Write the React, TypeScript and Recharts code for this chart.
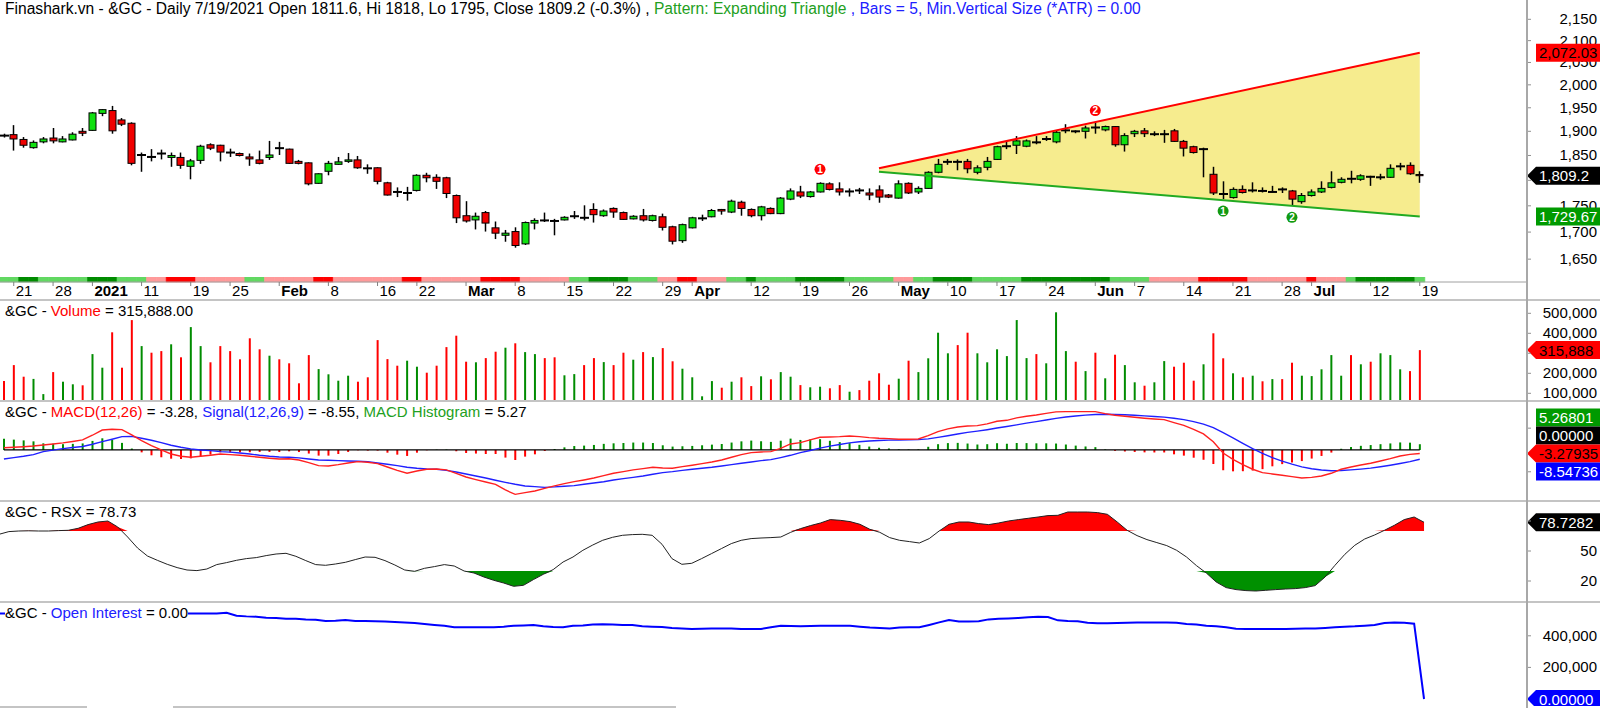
import React from 'react';
import {
  ComposedChart, Bar, Line, Area, XAxis, YAxis, Cell,
  ReferenceLine, ReferenceArea, ReferenceDot,
} from 'recharts';

const W = 1600;
const AXIS_W = 73;
const FONT = '"Liberation Sans", Arial, Helvetica, sans-serif';
const MARGIN = { top: 0, right: 0, left: -1, bottom: 0 };
const X_PAD = { left: 0, right: 4 };
const EMPTY_SLOTS = 10;

const UP = '#10e010';
const DOWN = '#f00000';
const VOL_UP = '#008c00';
const VOL_DOWN = '#ff0000';
const TXT_GREEN = '#22a022';
const TXT_BLUE = '#2020ff';
const TXT_RED = '#ff0000';

// trading days on the chart
const dec20 = [18, 21, 22, 23, 24, 28, 29, 30, 31];
const jan21 = [4, 5, 6, 7, 8, 11, 12, 13, 14, 15, 19, 20, 21, 22, 25, 26, 27, 28, 29];
const feb21 = [1, 2, 3, 4, 5, 8, 9, 10, 11, 12, 16, 17, 18, 19, 22, 23, 24, 25, 26];
const mar21 = [1, 2, 3, 4, 5, 8, 9, 10, 11, 12, 15, 16, 17, 18, 19, 22, 23, 24, 25, 26, 29, 30, 31];
const apr21 = [1, 5, 6, 7, 8, 9, 12, 13, 14, 15, 16, 19, 20, 21, 22, 23, 26, 27, 28, 29, 30];
const may21 = [3, 4, 5, 6, 7, 10, 11, 12, 13, 14, 17, 18, 19, 20, 21, 24, 25, 26, 27, 28];
const jun21 = [1, 2, 3, 4, 7, 8, 9, 10, 11, 14, 15, 16, 17, 18, 21, 22, 23, 24, 25, 28, 29, 30];
const jul21 = [1, 2, 6, 7, 8, 9, 12, 13, 14, 15, 16, 19];

const months: [string, number, number[]][] = [
  ['Dec', 12, dec20], ['2021', 1, jan21], ['Feb', 2, feb21], ['Mar', 3, mar21],
  ['Apr', 4, apr21], ['May', 5, may21], ['Jun', 6, jun21], ['Jul', 7, jul21],
];

// labelled dates on the time axis
const tickKeys = [
  '12/21', '12/28', '1/4', '1/11', '1/19', '1/25', '2/1', '2/8', '2/16', '2/22',
  '3/1', '3/8', '3/15', '3/22', '3/29', '4/1', '4/12', '4/19', '4/26', '5/3',
  '5/10', '5/17', '5/24', '6/1', '6/7', '6/14', '6/21', '6/28', '7/1', '7/12', '7/19',
];

const opens = [
  1891, 1893, 1883, 1866, 1878, 1886, 1878, 1882, 1900, 1902,
  1938, 1944, 1924, 1917, 1851, 1847, 1854, 1846, 1846, 1828,
  1840, 1872, 1871, 1856, 1854, 1847, 1841, 1846, 1865, 1863,
  1838, 1835, 1794, 1818, 1832, 1838, 1841, 1824, 1825, 1795,
  1777, 1775, 1780, 1810, 1806, 1805, 1770, 1731, 1723, 1737,
  1708, 1694, 1701, 1678, 1717, 1722, 1721, 1723, 1730, 1727,
  1743, 1731, 1745, 1737, 1725, 1731, 1722, 1729, 1710, 1684,
  1708, 1726, 1729, 1743, 1738, 1757, 1743, 1731, 1745, 1735,
  1763, 1777, 1768, 1777, 1793, 1783, 1778, 1780, 1775, 1781,
  1771, 1765, 1794, 1777, 1784, 1816, 1837, 1837, 1838, 1816,
  1826, 1842, 1869, 1871, 1869, 1877, 1884, 1878, 1902, 1900,
  1900, 1908, 1903, 1910, 1872, 1895, 1901, 1894, 1894, 1901,
  1879, 1868, 1863, 1812, 1773, 1766, 1782, 1780, 1779, 1777,
  1782, 1779, 1758, 1770, 1777, 1786, 1796, 1803, 1802, 1807,
  1806, 1806, 1828, 1830, 1811.6,
];
const highs = [
  1895, 1913, 1888, 1881, 1888, 1907, 1890, 1898, 1907, 1941,
  1947, 1954, 1928, 1919, 1856, 1863, 1862, 1856, 1856, 1843,
  1872, 1875, 1872, 1864, 1856, 1854, 1860, 1880, 1878, 1864,
  1841, 1836, 1814, 1839, 1847, 1855, 1849, 1832, 1826, 1797,
  1786, 1787, 1812, 1815, 1812, 1807, 1772, 1759, 1737, 1740,
  1720, 1704, 1709, 1720, 1726, 1737, 1725, 1730, 1740, 1751,
  1755, 1743, 1747, 1739, 1732, 1744, 1733, 1735, 1712, 1716,
  1729, 1733, 1744, 1744, 1762, 1760, 1745, 1750, 1747, 1767,
  1784, 1789, 1779, 1796, 1796, 1796, 1784, 1785, 1784, 1790,
  1773, 1800, 1796, 1788, 1818, 1843, 1843, 1842, 1843, 1830,
  1847, 1870, 1878, 1890, 1883, 1890, 1890, 1902, 1915, 1902,
  1912, 1919, 1912, 1911, 1896, 1903, 1907, 1900, 1903, 1905,
  1882, 1870, 1866, 1827, 1798, 1786, 1790, 1796, 1786, 1789,
  1786, 1781, 1775, 1782, 1798, 1818, 1806, 1819, 1812, 1809,
  1813, 1832, 1835, 1836, 1818,
];
const lows = [
  1887, 1860, 1866, 1864, 1875, 1875, 1877, 1881, 1890, 1901,
  1932, 1895, 1911, 1830, 1817, 1838, 1842, 1827, 1823, 1802,
  1833, 1861, 1838, 1847, 1848, 1829, 1832, 1841, 1851, 1833,
  1832, 1790, 1793, 1810, 1831, 1835, 1823, 1813, 1792, 1770,
  1767, 1760, 1778, 1796, 1783, 1765, 1717, 1718, 1705, 1701,
  1687, 1682, 1671, 1676, 1705, 1719, 1694, 1722, 1725, 1722,
  1718, 1729, 1727, 1723, 1724, 1720, 1720, 1703, 1677, 1680,
  1707, 1721, 1728, 1733, 1736, 1731, 1728, 1722, 1734, 1734,
  1761, 1765, 1766, 1776, 1780, 1770, 1768, 1773, 1761, 1756,
  1765, 1764, 1773, 1773, 1783, 1814, 1831, 1820, 1814, 1812,
  1820, 1841, 1863, 1853, 1867, 1873, 1880, 1875, 1896, 1896,
  1885, 1895, 1900, 1868, 1858, 1888, 1888, 1890, 1876, 1878,
  1848, 1854, 1806, 1771, 1763, 1764, 1774, 1776, 1776, 1776,
  1775, 1750, 1754, 1768, 1775, 1784, 1794, 1794, 1799, 1789,
  1801, 1805, 1820, 1811, 1795,
];
const closes = [
  1890, 1884, 1871, 1877, 1884, 1880, 1884, 1894, 1896, 1939,
  1946, 1901, 1915, 1834, 1852, 1846, 1853, 1850, 1830, 1839,
  1869, 1865, 1857, 1855, 1850, 1843, 1834, 1851, 1864, 1834,
  1834, 1793, 1813, 1834, 1837, 1841, 1825, 1823, 1798, 1771,
  1776, 1776, 1810, 1805, 1798, 1774, 1727, 1721, 1730, 1717,
  1698, 1698, 1675, 1718, 1722, 1721, 1720, 1728, 1731, 1725,
  1733, 1740, 1738, 1724, 1730, 1723, 1731, 1709, 1683, 1714,
  1727, 1727, 1741, 1740, 1759, 1745, 1731, 1748, 1735, 1765,
  1779, 1769, 1777, 1794, 1782, 1777, 1779, 1779, 1771, 1767,
  1767, 1793, 1775, 1784, 1816, 1832, 1838, 1836, 1823, 1825,
  1838, 1868, 1870, 1880, 1880, 1876, 1885, 1898, 1903, 1899,
  1907, 1907, 1910, 1872, 1891, 1900, 1895, 1895, 1895, 1879,
  1865, 1856, 1864, 1775, 1772, 1782, 1776, 1781, 1778, 1778,
  1781, 1763, 1770, 1777, 1784, 1795, 1802, 1802, 1809, 1806,
  1807, 1824, 1829, 1813, 1809.2,
];

// volume, thousands of contracts
const volume = [
  161, 241, 183, 172, 96, 206, 158, 145, 140, 296,
  228, 405, 228, 466, 336, 303, 311, 345, 280, 431,
  336, 255, 336, 311, 270, 375, 320, 288, 270, 250,
  150, 291, 221, 195, 163, 188, 158, 180, 366, 271,
  238, 263, 233, 203, 238, 331, 388, 258, 255, 276,
  308, 328, 350, 306, 296, 276, 280, 190, 196, 241,
  276, 256, 241, 303, 268, 306, 281, 326, 260, 223,
  180, 85, 161, 128, 158, 180, 136, 185, 170, 206,
  183, 141, 130, 133, 125, 141, 108, 116, 163, 200,
  143, 173, 263, 206, 275, 403, 300, 341, 403, 300,
  255, 320, 286, 466, 276, 296, 250, 505, 311, 258,
  211, 303, 175, 293, 241, 155, 138, 155, 261, 233,
  253, 163, 245, 400, 275, 200, 180, 188, 160, 171,
  171, 253, 188, 186, 220, 291, 188, 291, 245, 258,
  300, 291, 220, 211, 315.888,
];

const macd = [
  2, 2.5, 3, 3.6, 4.6, 5.5, 6.5, 7.8, 9.2, 13.5, 18.3, 19, 18.7, 13.8, 8.5, 4, 0, -3.7, -5.8, -6.7,
  -5.8, -4.9, -3.7, -4.3, -4.9, -5.8, -6.7, -7.6, -8.3, -8, -9.2, -11.6, -14.4, -14.7, -13.5, -11.9, -10.7, -11.3, -12.5, -15.6,
  -18.7, -21.4, -19.3, -17.7, -17.4, -18.3, -21.4, -24.8, -27.2, -29.4, -31.5, -36.7, -40.7, -39.1, -37.6, -35.2, -33, -30.9, -29.1, -27.5,
  -25.7, -23.5, -21.4, -19.9, -18.3, -17.1, -15.9, -16.5, -16.8, -15.3, -14, -12.5, -11, -9.2, -6.7, -4.3, -2.4, -1.8, -1.5, 1.5,
  5.5, 6.7, 9.2, 11.6, 11.9, 12.2, 12.8, 12.2, 11.3, 10.7, 10.4, 9.8, 9.8, 10.1, 13.1, 16.8, 19.3, 21.1, 22, 22.3,
  23.9, 26.3, 27.2, 29.4, 30.9, 32.1, 33.6, 34.9, 35.2, 35.2, 35.2, 35.2, 33.3, 31.8, 30.9, 30, 29.1, 28.4, 27.8, 25.1,
  22.6, 18.9, 14.7, 7.6, -2.8, -8.6, -13.5, -17.7, -20.8, -22, -23.2, -24.5, -25.7, -25.1, -23.9, -21.4, -17.7, -15.6, -13.8, -12.2,
  -10.1, -8, -5.5, -4, -3.28,
];
const signal = [
  -8.3, -7, -5.8, -4.3, -1.5, -0.2, 1.2, 2.2, 3.2, 5.2, 7.6, 9.8, 12.2, 12.5, 10.7, 8.9, 6.7, 4.3, 2.5, 1,
  0, -0.6, -1.5, -2, -2.8, -3.7, -4.9, -5.8, -6.4, -6.7, -7.3, -8.3, -9.2, -9.5, -9.8, -10.1, -10.4, -10.7, -11.9, -13.1,
  -14.4, -15.9, -16.8, -17.4, -17.7, -18.7, -20.2, -22, -23.9, -25.7, -27.8, -29.7, -31.5, -33, -33.6, -34.3, -33.9, -33.3, -32.7, -31.5,
  -30.3, -29.1, -27.5, -26.3, -25.1, -23.9, -22.3, -20.8, -19.9, -18.7, -17.7, -16.8, -15.9, -14.7, -13.5, -12.2, -11, -9.8, -8.9, -7,
  -4.9, -2.5, -0.5, 1.7, 3.5, 5, 6.5, 7.5, 8.2, 8.7, 9, 9.2, 9.3, 9.5, 10.2, 11.5, 13, 14.6, 16.1, 17.3,
  18.6, 20.1, 21.5, 23, 24.6, 26, 27.5, 29, 30.2, 31.2, 32, 32.6, 32.8, 32.6, 32.3, 31.8, 31.3, 30.7, 30.1, 29.1,
  27.8, 26, 23.7, 20.5, 15.8, 11, 6, 1.2, -3.2, -7, -10.2, -13, -15.5, -17.2, -18.4, -19, -18.8, -18.3, -17.6, -16.7,
  -15.4, -14, -12.4, -10.7, -8.55,
];

const rsx = [
  66.7, 69.4, 70, 70.2, 70, 70, 70.4, 70.7, 72.7, 76.4, 79, 80, 74, 64, 53, 45, 40.7, 36.7, 33.4, 31,
  30.4, 32, 36.4, 38.4, 40.7, 42.4, 43.4, 45.4, 47, 47.7, 44.7, 40.4, 36.4, 35.7, 37, 38.7, 41.4, 44, 43.7, 40.4,
  36, 31, 29.7, 32.7, 34.4, 36.4, 35, 30, 28, 24, 20.7, 18, 14.7, 15.7, 21.4, 26.7, 31.4, 39, 44, 50.7,
  56, 60.7, 63.7, 65.7, 66.4, 66.7, 65.7, 56.7, 42.4, 36.7, 37.7, 42.4, 47.4, 52.4, 57.4, 60.7, 62.4, 63, 63.4, 64,
  68.7, 72.4, 75.4, 78, 81.4, 80.7, 79.4, 76.7, 71.7, 68.7, 63.4, 60.7, 59.4, 58, 62.4, 70, 76.7, 79, 79, 77.4,
  76.4, 78, 80, 81.4, 82.7, 84, 85.4, 85.7, 89, 89, 89, 88.4, 86.7, 79, 70.7, 65.4, 61.4, 58.4, 55.4, 50.7,
  44, 35.4, 28, 19, 13.4, 11.4, 10.4, 10, 10.7, 11.4, 12, 12.4, 13.4, 15.4, 24, 35.7, 46.7, 55.7, 62, 66,
  70.7, 75.7, 81.4, 84, 78.73,
];

// open interest, thousands
const openInterest = [
  542, 542, 542, 542, 542, 542, 542, 542, 542, 542,
  542, 542, 542, 542, 542, 542, 542, 542, 542, 542,
  542, 542, 542, 546, 527, 523, 521, 515, 513, 508,
  508, 504, 502, 494, 496, 500, 494, 494, 492, 490,
  487, 485, 481, 475, 469, 464, 454, 454, 454, 454,
  454, 458, 464, 466, 469, 460, 456, 454, 464, 466,
  471, 473, 471, 469, 469, 460, 458, 456, 450, 447,
  443, 445, 447, 447, 447, 443, 443, 443, 454, 464,
  462, 460, 462, 464, 464, 464, 464, 458, 452, 450,
  447, 452, 454, 454, 469, 485, 500, 490, 490, 492,
  504, 508, 510, 513, 517, 521, 519, 498, 494, 492,
  483, 479, 479, 481, 483, 485, 485, 485, 485, 483,
  475, 471, 464, 460, 454, 445, 443, 443, 443, 443,
  443, 445, 447, 447, 450, 454, 458, 460, 464, 469,
  481, 485, 483, 477, 0,
];

// trend colour strip under the candles: [state, bars]
const stripRuns: [string, number][] = [
  ['g', 2], ['G', 2], ['g', 5], ['G', 3], ['g', 3], ['r', 2], ['R', 3], ['r', 5], ['g', 2], ['r', 5],
  ['R', 2], ['r', 7], ['R', 2], ['r', 6], ['R', 4], ['r', 5], ['g', 2], ['G', 4], ['g', 3], ['r', 2],
  ['R', 2], ['r', 3], ['g', 2], ['G', 1], ['g', 4], ['G', 5], ['g', 5], ['r', 2], ['g', 2], ['G', 4],
  ['g', 5], ['G', 9], ['g', 4], ['r', 5], ['R', 5], ['r', 6], ['R', 1], ['r', 3], ['g', 1], ['G', 6], ['g', 1],
];
const stripPalette: Record<string, string> = { g: '#62d862', G: '#008c00', r: '#ff9a9a', R: '#ff0000' };

// expanding triangle: start and end of both trend lines
const triBars = [89, 144];
const triUpper = [1824, 2072.03];
const triLower = [1817, 1729.67];

// numbered pivots
const pivots = [
  { bar: 83, price: 1822, n: '1', color: '#ff0000' },
  { bar: 111, price: 1944, n: '2', color: '#ff0000' },
  { bar: 124, price: 1740, n: '1', color: '#119a11' },
  { bar: 131, price: 1728, n: '2', color: '#119a11' },
];

// axis ticks; the labels hidden under value badges are left out
const priceTicks = [1650, 1700, 1750, 1800, 1850, 1900, 1950, 2000, 2050, 2100, 2150];
const priceTickLabels = [1650, 1700, 1750, 1850, 1900, 1950, 2000, 2050, 2100, 2150];
const volTicks = [100000, 200000, 300000, 400000, 500000];
const volTickLabels = [100000, 200000, 400000, 500000];
const macdTicks = [-20, 20];
const rsxTicks = [20, 50, 80];
const rsxTickLabels = [20, 50];
const oiTicks = [200000, 400000];

// ---------- table for the charts ----------
const keys: string[] = [];
const tickLabel: Record<string, { text: string; bold: boolean }> = {};
months.forEach(([name, m, days], mi) => {
  days.forEach((d, di) => {
    const k = `${m}/${d}`;
    keys.push(k);
    if (tickKeys.includes(k)) {
      const monthStart = di === 0 && mi > 0;
      tickLabel[k] = { text: monthStart ? name : String(d), bold: monthStart };
    }
  });
});

const stripColors: string[] = [];
stripRuns.forEach(([s, n]) => { for (let j = 0; j < n; j++) stripColors.push(stripPalette[s]); });

const rows: any[] = keys.map((d, i) => ({
  d,
  o: opens[i], h: highs[i], l: lows[i], c: closes[i],
  hl: [lows[i], highs[i]],
  vol: volume[i] * 1000,
  macd: macd[i], sig: signal[i],
  hist: Math.round((macd[i] - signal[i]) * 100) / 100,
  rsx: rsx[i],
  rsxHi: [70, Math.max(70, rsx[i])],
  rsxLo: [Math.min(30, rsx[i]), 30],
  oi: openInterest[i] * 1000,
  strip: 1,
}));
triBars.forEach((b, k) => {
  rows[b].up = triUpper[k];
  rows[b].lo = triLower[k];
  rows[b].tri = [triLower[k], triUpper[k]];
});
for (let e = 1; e <= EMPTY_SLOTS; e++) rows.push({ d: `e${e}` });

const firstKey = keys[0];
const lastKey = keys[keys.length - 1];
const fmtInt = (v: number) => v.toLocaleString('en-US');

// ---------- shapes ----------
function Candle(props: any) {
  const { x, y, width, height, payload } = props;
  if (!payload || payload.o == null) return <g />;
  const top = Math.min(y, y + height);
  const span = Math.abs(height);
  const lh = Math.log(payload.h);
  const ll = Math.log(payload.l);
  const k = lh === ll ? 0 : span / (lh - ll);
  const yo = top + (lh - Math.log(payload.o)) * k;
  const yc = top + (lh - Math.log(payload.c)) * k;
  const cx = Math.round(x + width / 2) + 0.5;
  const bTop = Math.min(yo, yc);
  const bH = Math.abs(yc - yo);
  const up = payload.c >= payload.o;
  return (
    <g>
      <line x1={cx} x2={cx} y1={top} y2={top + span} stroke="#000" strokeWidth={1.5} />
      {bH < 1.2 ? (
        <line x1={cx - 4.5} x2={cx + 4.5} y1={yo} y2={yo} stroke="#000" strokeWidth={2} />
      ) : (
        <rect x={cx - 3.5} y={bTop} width={7} height={bH} fill={up ? UP : DOWN} stroke="#000" strokeWidth={1} />
      )}
    </g>
  );
}

function DateTick(props: any) {
  const { x, y, payload } = props;
  const lab = tickLabel[payload.value];
  if (!lab) return <g />;
  return (
    <g>
      <line x1={x} x2={x} y1={y} y2={y + 4} stroke="#808080" />
      <text x={x + 2} y={y + 14} fontSize={15} fontFamily={FONT} fontWeight={lab.bold ? 'bold' : 'normal'} fill="#000">
        {lab.text}
      </text>
    </g>
  );
}

const noTick = () => <g />;

// axis value text, drawn as a reference label so the badges can cover it
function AxisText(props: any) {
  const { viewBox, text } = props;
  if (!viewBox) return null;
  return (
    <text x={W - 3} y={viewBox.y + 5} textAnchor="end" fontSize={15} fontFamily={FONT} fill="#000">{text}</text>
  );
}
const axisLabels = (values: number[], fmt: (v: number) => string) =>
  values.map((v) => (
    <ReferenceLine key={`t${v}`} y={v} stroke="none" label={<AxisText text={fmt(v)} />} />
  ));

type BadgeItem = { text: string; bg: string; fg: string; slot: number; pointer: boolean };
function Badges(props: any) {
  const { viewBox, items } = props;
  if (!viewBox) return null;
  const ax = viewBox.x + viewBox.width;
  return (
    <g>
      {items.map((b: BadgeItem, k: number) => {
        const cy = viewBox.y + b.slot * 18;
        const pts = b.pointer
          ? `${ax},${cy} ${ax + 9},${cy - 9} ${W},${cy - 9} ${W},${cy + 9} ${ax + 9},${cy + 9}`
          : `${ax + 9},${cy - 9} ${W},${cy - 9} ${W},${cy + 9} ${ax + 9},${cy + 9}`;
        return (
          <g key={k}>
            <polygon points={pts} fill={b.bg} />
            <text x={ax + 12} y={cy + 5.5} fontSize={15} fontFamily={FONT} fill={b.fg}>{b.text}</text>
          </g>
        );
      })}
    </g>
  );
}

function Pivot(props: any) {
  const { cx, cy, n, color } = props;
  return (
    <g>
      <circle cx={cx} cy={cy} r={5.5} fill={color} />
      <text x={cx} y={cy + 3.5} textAnchor="middle" fontSize={10} fontWeight="bold" fontFamily={FONT} fill="#fff">{n}</text>
    </g>
  );
}

const yAxisCommon = {
  orientation: 'right' as const,
  width: AXIS_W,
  axisLine: false,
  tickSize: 4,
  tickLine: { stroke: '#909090' },
  interval: 0 as const,
  allowDataOverflow: true,
  tick: noTick,
};

type Part = [string, string];
function Title({ top, parts, bg, size = 15 }: { top: number; parts: Part[]; bg?: boolean; size?: number }) {
  return (
    <div style={{
      position: 'absolute', left: 5, top, fontFamily: FONT, fontSize: size, lineHeight: '18px',
      whiteSpace: 'pre', background: bg ? '#fff' : 'transparent',
    }}>
      {parts.map(([t, c], k) => <span key={k} style={{ color: c }}>{t}</span>)}
    </div>
  );
}

const hLine = (top: number, left = 0, width = W, color = '#c4c4c4', h = 2) => (
  <div style={{ position: 'absolute', left, top, width, height: h, background: color }} />
);

export default function App() {
  return (
    <div style={{ position: 'absolute', left: 0, top: 0, width: W, height: 708, background: '#fff', overflow: 'hidden' }}>
      {/* price */}
      <div style={{ position: 'absolute', left: 0, top: 0 }}>
        <ComposedChart width={W} height={277} data={rows} margin={MARGIN}>
          <XAxis dataKey="d" hide padding={X_PAD} />
          <YAxis {...yAxisCommon} scale="log" domain={[1617.8, 2196.3]} ticks={priceTicks} />
          <Area dataKey="tri" fill="#f6ec8e" fillOpacity={1} stroke="none" connectNulls isAnimationActive={false} />
          <Line dataKey="up" stroke="#ff0000" strokeWidth={2} dot={false} activeDot={false} connectNulls isAnimationActive={false} />
          <Line dataKey="lo" stroke="#22aa22" strokeWidth={2} dot={false} activeDot={false} connectNulls isAnimationActive={false} />
          <Bar dataKey="hl" barSize={7} shape={(p: any) => <Candle {...p} />} isAnimationActive={false} />
          {pivots.map((p, k) => (
            <ReferenceDot key={k} x={keys[p.bar]} y={p.price} r={5.5}
              shape={(s: any) => <Pivot {...s} n={p.n} color={p.color} />} />
          ))}
          {axisLabels(priceTickLabels, fmtInt)}
          <ReferenceLine y={2072.03} stroke="none"
            label={<Badges items={[{ text: '2,072.03', bg: '#ff0000', fg: '#000', slot: 0, pointer: false }]} />} />
          <ReferenceLine y={1809.2} stroke="none"
            label={<Badges items={[{ text: '1,809.2', bg: '#000', fg: '#fff', slot: 0, pointer: true }]} />} />
          <ReferenceLine y={1729.67} stroke="none"
            label={<Badges items={[{ text: '1,729.67', bg: '#009a00', fg: '#fff', slot: 0, pointer: false }]} />} />
        </ComposedChart>
      </div>

      {/* trend strip + time axis */}
      <div style={{ position: 'absolute', left: 0, top: 277 }}>
        <ComposedChart width={W} height={23} data={rows} margin={{ top: 0, right: AXIS_W, left: -1, bottom: 0 }} barCategoryGap={0}>
          <XAxis dataKey="d" height={18} padding={X_PAD} interval={0} tickSize={0} tickMargin={0}
            tickLine={false} axisLine={{ stroke: '#a0a0a0' }} tick={<DateTick />} />
          <YAxis hide domain={[0, 1]} />
          <Bar dataKey="strip" isAnimationActive={false}>
            {rows.map((r, i) => (
              <Cell key={i} fill={stripColors[i] || 'none'} stroke={stripColors[i] || 'none'} strokeWidth={0.6} />
            ))}
          </Bar>
        </ComposedChart>
      </div>

      {/* volume */}
      <div style={{ position: 'absolute', left: 0, top: 301 }}>
        <ComposedChart width={W} height={99} data={rows} margin={MARGIN}>
          <XAxis dataKey="d" hide padding={X_PAD} />
          <YAxis {...yAxisCommon} domain={[66500, 561500]} ticks={volTicks} />
          <Bar dataKey="vol" barSize={2} isAnimationActive={false}>
            {rows.map((r, i) => (
              <Cell key={i} fill={r.c >= r.o ? VOL_UP : VOL_DOWN} />
            ))}
          </Bar>
          {axisLabels(volTickLabels, fmtInt)}
          <ReferenceLine y={315888} stroke="none"
            label={<Badges items={[{ text: '315,888', bg: '#ff0000', fg: '#000', slot: 0, pointer: true }]} />} />
        </ComposedChart>
      </div>

      {/* MACD */}
      <div style={{ position: 'absolute', left: 0, top: 402 }}>
        <ComposedChart width={W} height={98} data={rows} margin={MARGIN}>
          <XAxis dataKey="d" hide padding={X_PAD} />
          <YAxis {...yAxisCommon} domain={[-45.9, 44]} ticks={macdTicks} />
          <Bar dataKey="hist" barSize={2} isAnimationActive={false}>
            {rows.map((r, i) => (
              <Cell key={i} fill={r.hist >= 0 ? VOL_UP : VOL_DOWN} />
            ))}
          </Bar>
          <ReferenceLine segment={[{ x: firstKey, y: 0 }, { x: lastKey, y: 0 }]} stroke="#000" strokeWidth={1.3} />
          <Line dataKey="sig" stroke="#2020ff" strokeWidth={1.4} dot={false} activeDot={false} isAnimationActive={false} />
          <Line dataKey="macd" stroke="#ff2020" strokeWidth={1.4} dot={false} activeDot={false} isAnimationActive={false} />
          <ReferenceLine y={-3.27935} stroke="none"
            label={<Badges items={[
              { text: '5.26801', bg: '#009a00', fg: '#fff', slot: -2, pointer: false },
              { text: '0.00000', bg: '#000', fg: '#fff', slot: -1, pointer: false },
              { text: '-3.27935', bg: '#ff0000', fg: '#000', slot: 0, pointer: true },
              { text: '-8.54736', bg: '#0000ff', fg: '#fff', slot: 1, pointer: false },
            ]} />} />
        </ComposedChart>
      </div>

      {/* RSX */}
      <div style={{ position: 'absolute', left: 0, top: 501 }}>
        <ComposedChart width={W} height={100} data={rows} margin={MARGIN}>
          <XAxis dataKey="d" hide padding={X_PAD} />
          <YAxis {...yAxisCommon} domain={[0, 100]} ticks={rsxTicks} />
          <ReferenceArea x1={firstKey} x2={lastKey} y1={30} y2={70} fill="#f2e6f2" fillOpacity={1} stroke="none" />
          <Area dataKey="rsxHi" fill="#ff0000" fillOpacity={1} stroke="none" isAnimationActive={false} />
          <Area dataKey="rsxLo" fill="#009000" fillOpacity={1} stroke="none" isAnimationActive={false} />
          {[70, 50, 30].map((v) => (
            <ReferenceLine key={v} segment={[{ x: firstKey, y: v }, { x: lastKey, y: v }]}
              stroke="#606060" strokeWidth={1.5} strokeDasharray="2 2" />
          ))}
          <Line dataKey="rsx" stroke="#222" strokeWidth={1} dot={false} activeDot={false} isAnimationActive={false} />
          {axisLabels(rsxTickLabels, String)}
          <ReferenceLine y={78.7282} stroke="none"
            label={<Badges items={[{ text: '78.7282', bg: '#000', fg: '#fff', slot: 0, pointer: true }]} />} />
        </ComposedChart>
      </div>

      {/* open interest */}
      <div style={{ position: 'absolute', left: 0, top: 602 }}>
        <ComposedChart width={W} height={104} data={rows} margin={MARGIN}>
          <XAxis dataKey="d" hide padding={X_PAD} />
          <YAxis {...yAxisCommon} domain={[-44300, 614000]} ticks={oiTicks} />
          <Line dataKey="oi" stroke="#0000ff" strokeWidth={2} dot={false} activeDot={false} isAnimationActive={false} />
          {axisLabels(oiTicks, fmtInt)}
          <ReferenceLine y={0} stroke="none"
            label={<Badges items={[{ text: '0.00000', bg: '#0000ff', fg: '#fff', slot: 0, pointer: true }]} />} />
        </ComposedChart>
      </div>

      {/* pane frames */}
      {hLine(299)}
      {hLine(400)}
      {hLine(500)}
      {hLine(601)}
      {hLine(706, 0, 87)}
      {hLine(706, 173, 503)}
      <div style={{ position: 'absolute', left: 1526, top: 0, width: 2, height: 708, background: '#a8a8a8' }} />

      {/* titles */}
      <Title top={0} size={15.6} parts={[
        ['Finashark.vn - &GC - Daily 7/19/2021 Open 1811.6, Hi 1818, Lo 1795, Close 1809.2 (-0.3%) , ', '#000'],
        ['Pattern: Expanding Triangle', TXT_GREEN],
        [' , Bars = 5, Min.Vertical Size (*ATR) = 0.00', TXT_BLUE],
      ]} />
      <Title top={302} parts={[['&GC - ', '#000'], ['Volume', TXT_RED], [' = 315,888.00', '#000']]} />
      <Title top={403} parts={[
        ['&GC - ', '#000'], ['MACD(12,26)', TXT_RED], [' = -3.28, ', '#000'],
        ['Signal(12,26,9)', TXT_BLUE], [' = -8.55, ', '#000'],
        ['MACD Histogram', TXT_GREEN], [' = 5.27', '#000'],
      ]} />
      <Title top={503} parts={[['&GC - RSX = 78.73', '#000']]} />
      <Title top={604} bg parts={[['&GC - ', '#000'], ['Open Interest', TXT_BLUE], [' = 0.00', '#000']]} />
    </div>
  );
}
